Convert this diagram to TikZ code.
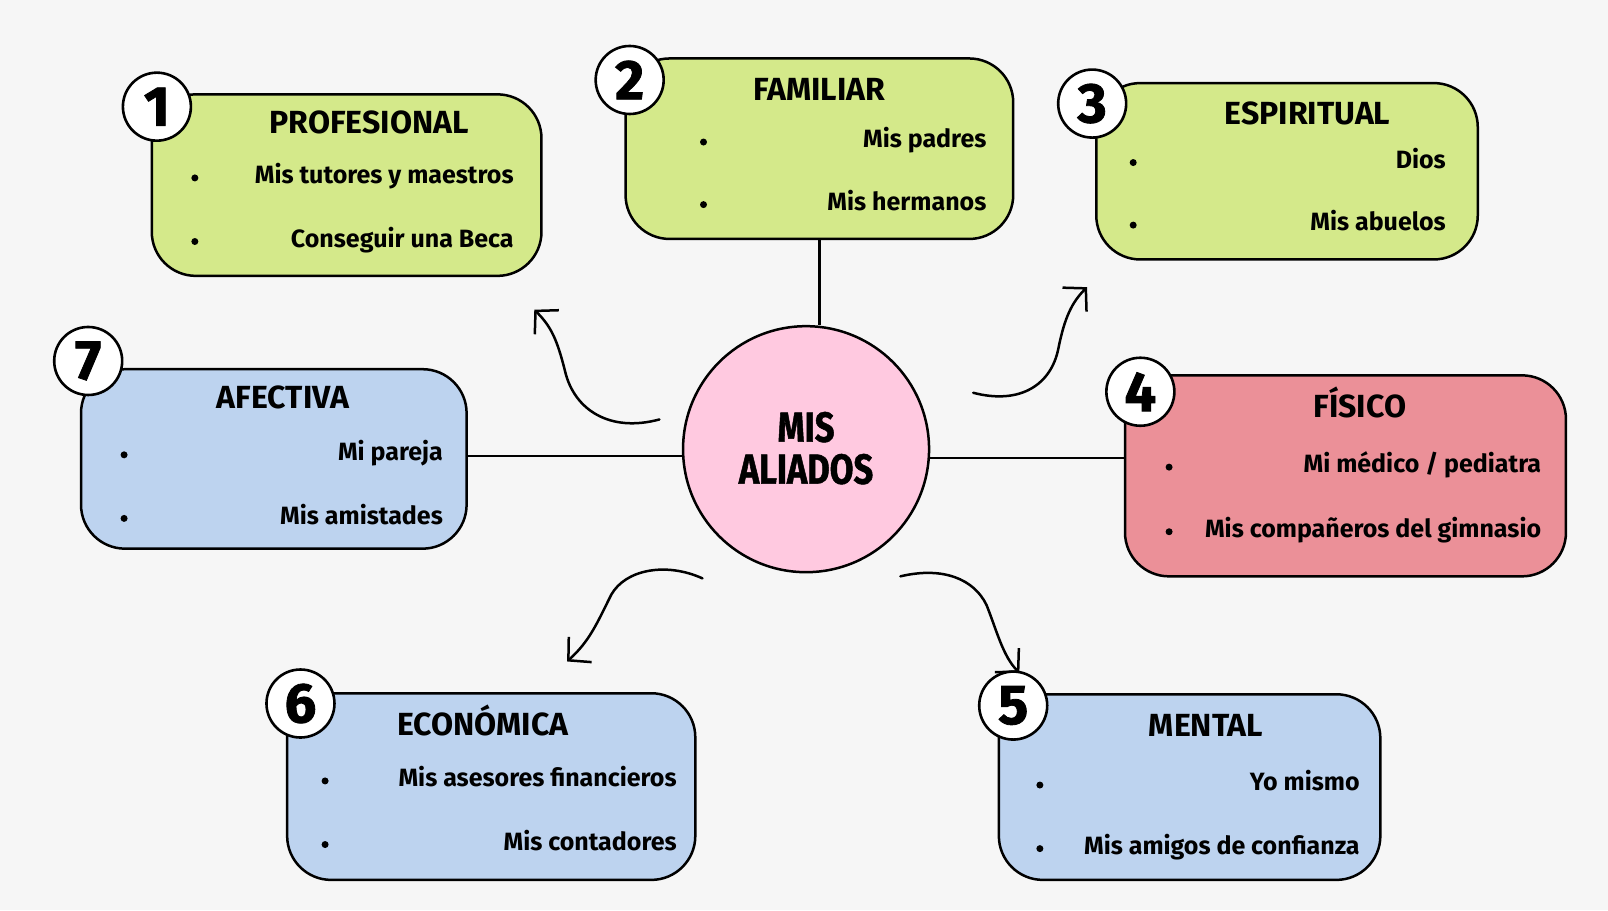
\documentclass[tikz,border=0pt]{standalone}
\usepackage{fontspec}
\setmainfont{Fira Sans}
\newfontfamily\condfont{Fira Sans}[FakeStretch=0.82,FakeBold=1.2]
\newfontfamily\numfont{Fira Sans}[FakeBold=1.5]
\usetikzlibrary{arrows.meta,fit}
\definecolor{bgc}{HTML}{F6F6F6}
\definecolor{grn}{HTML}{D4E98A}
\definecolor{blu}{HTML}{BDD3EF}
\definecolor{rosa}{HTML}{EB9098}
\definecolor{pnk}{HTML}{FFC9E0}
\begin{document}
\begin{tikzpicture}[x=1.0255pt,y=-1.0255pt,
  card/.style={draw=black,line width=2.5pt,rounded corners=44pt,inner sep=0pt},
  numc/.style={circle,draw=black,line width=2.6pt,fill=white,minimum size=68pt,inner sep=0pt,
    font=\numfont\fontsize{56}{60}\selectfont\bfseries},
  ttl/.style={font=\fontsize{32}{36}\selectfont\bfseries,anchor=base,inner sep=0pt},
  itm/.style={font=\fontsize{25}{29}\selectfont\bfseries,anchor=base east,inner sep=0pt},
  dot/.style={circle,fill=black,inner sep=0pt,minimum size=7pt},
  conn/.style={draw=black,line width=2.3pt},
  harrow/.style={draw=black,line width=2.5pt,line cap=round,
    -{Straight Barb[length=16pt,width=34pt,line width=2.5pt]}}]
\fill[bgc] (0,0) rectangle (1568,887.4);
\useasboundingbox (0,0) rectangle (1568,887.4);
% boxes
\node[card,fill=grn,fit={(148,92) (528,269)}] (b1) {};
\node[card,fill=grn,fit={(610,57) (988,233)}] (b2) {};
\node[card,fill=grn,fit={(1069,81) (1441,253)}] (b3) {};
\node[card,fill=rosa,fit={(1097,366) (1527,562)}] (b4) {};
\node[card,fill=blu,fit={(974,677) (1346,858)}] (b5) {};
\node[card,fill=blu,fit={(280,676) (678,858)}] (b6) {};
\node[card,fill=blu,fit={(79,360) (455,535)}] (b7) {};
% center
\node[circle,draw=black,line width=2.5pt,fill=pnk,minimum size=246pt,inner sep=0pt] (c) at (786,438) {};
\node[align=center,font=\condfont\fontsize{42}{42}\selectfont\bfseries] (ct) at (786,437) {MIS\\ALIADOS};
% connectors
\draw[conn] (b2.south) -- (c.north -| b2.south);
\draw[conn] (c.183) -- (c.183 -| b7.east);
\draw[conn] (c.-4) -- (c.-4 -| b4.west);
% hand-drawn arrows
\coordinate (a1) at (643,409);
\coordinate (t1) at (521,302);
\coordinate (a3) at (949,383);
\coordinate (t3) at (1060,280);
\coordinate (a6) at (685,564);
\coordinate (t6) at (553,645);
\coordinate (a5) at (878,562);
\coordinate (t5) at (994,656);
\draw[harrow] (a1) .. controls (595,422) and (560,400) .. (551,362) .. controls (543,330) and (537,318) .. (t1);
\draw[harrow] (a3) .. controls (995,395) and (1025,375) .. (1032,340) .. controls (1038,310) and (1045,295) .. (t3);
\draw[harrow] (a6) .. controls (650,548) and (610,555) .. (596,580) .. controls (582,608) and (575,625) .. (t6);
\draw[harrow] (a5) .. controls (920,552) and (950,565) .. (962,590) .. controls (972,615) and (978,640) .. (t5);
% number circles
\node[numc] (n1) at (153,104) {1};
\node[numc] (n2) at (614,78) {2};
\node[numc] (n3) at (1065,101) {3};
\node[numc] (n4) at (1112,382) {4};
\node[numc] (n5) at (988,688) {5};
\node[numc] (n6) at (293,686) {6};
\node[numc] (n7) at (86,352) {7};
% box 1
\node[ttl] (h1) at (360,130) {PROFESIONAL};
\node[dot] (d11) at (190,173.5) {};
\node[dot] (d12) at (190,235.5) {};
\node[itm] (i11) at (501,179) {Mis tutores y maestros};
\node[itm] (i12) at (501,241) {Conseguir una Beca};
% box 2
\node[ttl] (h2) at (799,98) {FAMILIAR};
\node[dot] (d21) at (686,138.5) {};
\node[dot] (d22) at (686,199.5) {};
\node[itm] (i21) at (962,144) {Mis padres};
\node[itm] (i22) at (962,205) {Mis hermanos};
% box 3
\node[ttl] (h3) at (1275,121) {ESPIRITUAL};
\node[dot] (d31) at (1105,158.5) {};
\node[dot] (d32) at (1105,219.5) {};
\node[itm] (i31) at (1410,164) {Dios};
\node[itm] (i32) at (1410,225) {Mis abuelos};
% box 4
\node[ttl] (h4) at (1326,407) {FÍSICO};
\node[dot] (d41) at (1140,455.5) {};
\node[dot] (d42) at (1140,518.5) {};
\node[itm] (i41) at (1503,461) {Mi médico / pediatra};
\node[itm] (i42) at (1503,524) {Mis compañeros del gimnasio};
% box 5
\node[ttl] (h5) at (1176,718) {MENTAL};
\node[dot] (d51) at (1014,765.5) {};
\node[dot] (d52) at (1014,827.5) {};
\node[itm] (i51) at (1326,771) {Yo mismo};
\node[itm] (i52) at (1326,833) {Mis amigos de confianza};
% box 6
\node[ttl] (h6) at (471,717) {ECONÓMICA};
\node[dot] (d61) at (317,761.5) {};
\node[dot] (d62) at (317,823.5) {};
\node[itm] (i61) at (660,767) {Mis asesores financieros};
\node[itm] (i62) at (660,829) {Mis contadores};
% box 7
\node[ttl] (h7) at (276,398) {AFECTIVA};
\node[dot] (d71) at (121,443.5) {};
\node[dot] (d72) at (121,505.5) {};
\node[itm] (i71) at (432,449) {Mi pareja};
\node[itm] (i72) at (432,511) {Mis amistades};
\end{tikzpicture}
\end{document}
